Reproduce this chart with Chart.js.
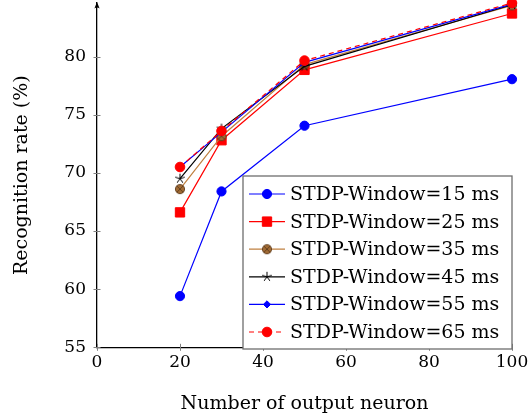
<!DOCTYPE html>
<html>
<head>
<meta charset="utf-8">
<script src="https://cdn.jsdelivr.net/npm/chart.js@4.4.0/dist/chart.umd.min.js"></script>
<style>
  html, body { margin: 0; padding: 0; background: #fff; }
</style>
</head>
<body>
<canvas id="chart" width="530" height="416"></canvas>
<script>
// values
const neurons = [20, 30, 50, 100];
const seriesNames = ['STDP-Window=15 ms', 'STDP-Window=25 ms', 'STDP-Window=35 ms',
                     'STDP-Window=45 ms', 'STDP-Window=55 ms', 'STDP-Window=65 ms'];
const win15 = [59.4, 68.4, 74.05, 78.05];
const win25 = [66.6, 72.8, 78.85, 83.7];
const win35 = [68.6, 73.15, 79.3, 84.4];
const win45 = [69.5, 73.8, 79.15, 84.45];
const win55 = [70.5, 73.5, 79.5, 84.5];
const win65 = [70.5, 73.6, 79.65, 84.6];
const xTicks = [0, 20, 40, 60, 80, 100];
const yTicks = [55, 60, 65, 70, 75, 80];

const FONT = "'DejaVu Serif', serif";
const BLUE = 'rgb(0,0,255)';
const RED = 'rgb(255,0,0)';
const BROWN = 'rgb(191,128,64)';

function markCanvas(size, draw) {
    const c = document.createElement('canvas');
    c.width = c.height = size;
    draw(c.getContext('2d'), size / 2);
    return c;
}

// pgfplots-like otimes* and star marks
const otimesMark = markCanvas(12, function (g, m) {
    const r = 4.6, d = r * Math.SQRT1_2;
    g.beginPath();
    g.arc(m, m, r, 0, 2 * Math.PI);
    g.fillStyle = 'rgb(160,106,52)';
    g.fill();
    g.strokeStyle = 'rgb(95,60,28)';
    g.lineWidth = 0.9;
    g.stroke();
    g.beginPath();
    g.moveTo(m - d, m - d); g.lineTo(m + d, m + d);
    g.moveTo(m + d, m - d); g.lineTo(m - d, m + d);
    g.stroke();
});
const starMark = markCanvas(14, function (g, m) {
    g.strokeStyle = '#000';
    g.lineWidth = 1;
    g.beginPath();
    for (let k = 0; k < 5; k++) {
        const a = -Math.PI / 2 + k * 2 * Math.PI / 5;
        g.moveTo(m, m);
        g.lineTo(m + 5 * Math.cos(a), m + 5 * Math.sin(a));
    }
    g.stroke();
});

function series(label, values, color, style, radius, extra) {
    return Object.assign({
        label: label,
        data: neurons.map((n, i) => ({ x: n, y: values[i] })),
        borderColor: color,
        backgroundColor: color,
        pointBackgroundColor: color,
        pointBorderColor: color,
        borderWidth: 1.2,
        pointStyle: style,
        pointRadius: radius,
        pointBorderWidth: 1,
        tension: 0,
        clip: false
    }, extra || {});
}

const datasets = [
    series(seriesNames[0], win15, BLUE, 'circle', 4.6),
    series(seriesNames[1], win25, RED, 'rect', 6.6),
    series(seriesNames[2], win35, BROWN, otimesMark, 5),
    series(seriesNames[3], win45, '#000', starMark, 5),
    series(seriesNames[4], win55, BLUE, 'rectRot', 3.6),
    series(seriesNames[5], win65, RED, 'circle', 4.8, { borderDash: [5, 4] })
];
// later series drawn on top, like pgfplots
datasets.forEach((d, i) => { d.order = datasets.length - i; });

const axisDecor = {
    id: 'axisDecor',
    beforeDatasetsDraw(chart) {
        const ctx = chart.ctx, a = chart.chartArea;
        const xs = chart.scales.x, ys = chart.scales.y;
        ctx.save();
        ctx.strokeStyle = '#808080';
        ctx.lineWidth = 1;
        ctx.beginPath();
        xTicks.forEach(v => {
            const px = Math.round(xs.getPixelForValue(v)) + 0.5;
            ctx.moveTo(px, a.bottom - 3.5); ctx.lineTo(px, a.bottom + 3.5);
        });
        yTicks.forEach(v => {
            const py = Math.round(ys.getPixelForValue(v)) + 0.5;
            ctx.moveTo(a.left - 3.5, py); ctx.lineTo(a.left + 3.5, py);
        });
        ctx.stroke();
        // arrow head on the y axis
        ctx.fillStyle = '#000';
        ctx.beginPath();
        ctx.moveTo(a.left, a.top - 1);
        ctx.lineTo(a.left - 2.6, a.top + 5.5);
        ctx.quadraticCurveTo(a.left, a.top + 3.5, a.left + 2.6, a.top + 5.5);
        ctx.closePath();
        ctx.fill();
        ctx.restore();
    }
};

const boxLegend = {
    id: 'boxLegend',
    afterDatasetsDraw(chart) {
        const ctx = chart.ctx;
        const box = { left: 243, top: 176, right: 512, bottom: 349 };
        const rowH = 27.6, firstRow = 194;
        ctx.save();
        ctx.fillStyle = '#fff';
        ctx.fillRect(box.left, box.top, box.right - box.left, box.bottom - box.top);
        ctx.strokeStyle = '#6e6e6e';
        ctx.lineWidth = 1.3;
        ctx.strokeRect(box.left, box.top, box.right - box.left, box.bottom - box.top);
        chart.data.datasets.forEach((d, i) => {
            const y = firstRow + i * rowH;
            ctx.strokeStyle = d.borderColor;
            ctx.lineWidth = d.borderWidth;
            ctx.setLineDash(d.borderDash || []);
            ctx.beginPath();
            ctx.moveTo(249, y); ctx.lineTo(285, y);
            ctx.stroke();
            ctx.setLineDash([]);
            ctx.fillStyle = d.pointBackgroundColor;
            ctx.strokeStyle = d.pointBorderColor;
            ctx.lineWidth = 1;
            Chart.helpers.drawPoint(ctx, {
                pointStyle: d.pointStyle, radius: d.pointRadius, rotation: 0, borderWidth: 1
            }, 267, y);
            ctx.fillStyle = '#000';
            ctx.font = '19px ' + FONT;
            ctx.textAlign = 'left';
            ctx.textBaseline = 'middle';
            ctx.fillText(d.label, 290, y + 1);
        });
        ctx.restore();
    }
};

new Chart(document.getElementById('chart'), {
    type: 'line',
    data: { datasets: datasets },
    options: {
        responsive: false,
        animation: false,
        events: [],
        layout: { autoPadding: false, padding: { top: 3, right: 18, left: 0, bottom: 0 } },
        plugins: { legend: { display: false }, tooltip: { enabled: false } },
        scales: {
            x: {
                type: 'linear',
                min: 0,
                max: 100,
                afterBuildTicks: s => { s.ticks = xTicks.map(v => ({ value: v })); },
                afterFit: s => { s.height = 68.7; s.paddingLeft = 0; s.paddingRight = 0; },
                grid: { drawOnChartArea: false, drawTicks: false },
                border: { color: '#000', width: 1.3 },
                ticks: { color: '#000', font: { family: FONT, size: 17 }, padding: 5, maxRotation: 0, autoSkip: false },
                title: {
                    display: true, text: 'Number of output neuron', color: '#000',
                    font: { family: FONT, size: 19 }, padding: { top: 0, bottom: 1 }
                }
            },
            y: {
                type: 'linear',
                min: 55,
                max: 84.6,
                afterBuildTicks: s => { s.ticks = yTicks.map(v => ({ value: v })); },
                afterFit: s => { s.width = 97; s.paddingTop = 0; s.paddingBottom = 0; },
                grid: { drawOnChartArea: false, drawTicks: false },
                border: { color: '#000', width: 1.3 },
                ticks: { color: '#000', font: { family: FONT, size: 17 }, padding: 11, autoSkip: false },
                title: {
                    display: true, text: 'Recognition rate (%)', color: '#000',
                    font: { family: FONT, size: 19 }, padding: { top: 11, bottom: 0 }
                }
            }
        }
    },
    plugins: [axisDecor, boxLegend]
});
</script>
</body>
</html>
